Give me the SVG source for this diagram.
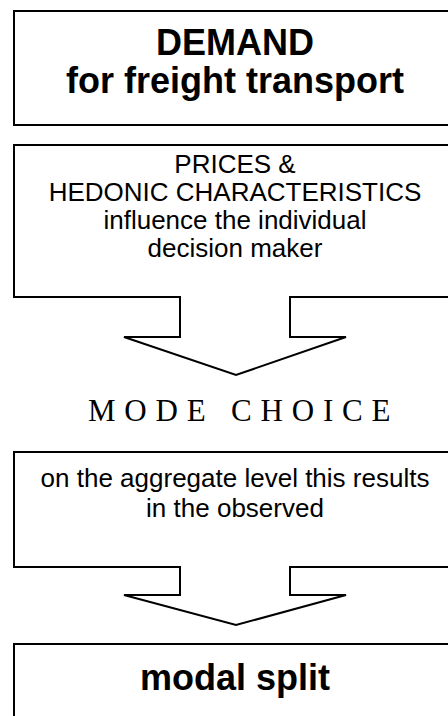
<svg xmlns="http://www.w3.org/2000/svg" width="448" height="716" viewBox="0 0 448 716">
<style>
.box{fill:#fff;stroke:#000;stroke-width:2}
.sans{font-family:"Liberation Sans",Arial,sans-serif;fill:#000;text-anchor:middle}
.big{font-size:36px;font-weight:bold}
.mid{font-size:26px}
.serif{font-family:"Liberation Serif","Times New Roman",serif;font-size:31px;fill:#000;letter-spacing:8.8px}
</style>
<rect width="448" height="716" fill="#fff"/>
<g id="demand">
<rect class="box" x="14" y="11" width="445" height="114"/>
<text class="sans big" x="235" y="55">DEMAND</text>
<text class="sans big" x="235" y="93">for freight transport</text>
</g>
<g id="prices">
<path class="box" d="M14,145 H459 V297 H290 V337 H346 L236,375 L124,337 H180 V297 H14 Z"/>
<text class="sans mid" x="235" y="173">PRICES &amp;</text>
<text class="sans mid" x="235" y="201">HEDONIC CHARACTERISTICS</text>
<text class="sans mid" x="235" y="229">influence the individual</text>
<text class="sans mid" x="235" y="257">decision maker</text>
</g>
<g id="modechoice">
<text class="serif" x="88" y="421">MODE CHOICE</text>
</g>
<g id="aggregate">
<path class="box" d="M14,452 H459 V567 H290 V595 H346 L236,625 L124,595 H180 V567 H14 Z"/>
<text class="sans mid" x="235" y="487">on the aggregate level this results</text>
<text class="sans mid" x="235" y="517">in the observed</text>
</g>
<g id="modalsplit">
<rect class="box" x="14" y="644" width="445" height="90"/>
<text class="sans big" x="235" y="690">modal split</text>
</g>
<g id="connectors"></g>
</svg>
